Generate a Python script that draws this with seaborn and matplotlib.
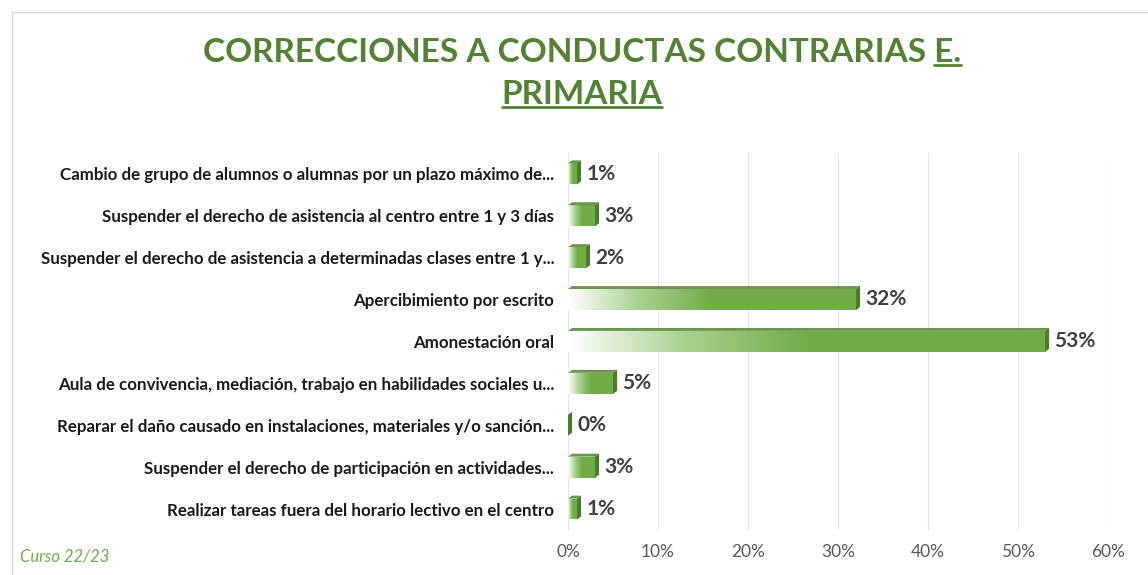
import numpy as np
import pandas as pd
import matplotlib
matplotlib.use("Agg")
import matplotlib.pyplot as plt
import seaborn as sns
from matplotlib.colors import LinearSegmentedColormap
from matplotlib.patches import Rectangle, Polygon
from matplotlib.lines import Line2D

# data
categories = [
    "Cambio de grupo de alumnos o alumnas por un plazo máximo de...",
    "Suspender el derecho de asistencia al centro entre 1 y 3 días",
    "Suspender el derecho de asistencia a determinadas clases entre 1 y...",
    "Apercibimiento por escrito",
    "Amonestación oral",
    "Aula de convivencia, mediación, trabajo en habilidades sociales u...",
    "Reparar el daño causado en instalaciones, materiales y/o sanción...",
    "Suspender el derecho de participación en actividades...",
    "Realizar tareas fuera del horario lectivo en el centro",
]
values = [1, 3, 2, 32, 53, 5, 0, 3, 1]
x_ticks = [0, 10, 20, 30, 40, 50, 60]
title_line1 = "CORRECCIONES A CONDUCTAS CONTRARIAS E."
title_underlined = "E."
title_line2 = "PRIMARIA"
footer = "Curso 22/23"

GREEN = "#70AD47"
DARK = "#548235"
TITLE_GREEN = "#538135"

sns.set_theme(style="white")
plt.rcParams["font.family"] = ["Lato", "DejaVu Sans"]

fig = plt.figure(figsize=(11.48, 5.75), dpi=100)
ax = fig.add_axes([0.4948, 0.0783, 0.4704, 0.656])

df = pd.DataFrame({"cat": categories, "val": values})
sns.barplot(data=df, y="cat", x="val", orient="h", color=GREEN,
            width=0.5, saturation=1, ax=ax, zorder=3)

# gradient fill + 3d faces
cmap = LinearSegmentedColormap.from_list("g", ["#FFFFFF", "#A9D08E", GREEN])
d = 0.45
up = 0.07
for p, v in zip(ax.patches, values):
    x0, y0 = p.get_x(), p.get_y()
    w, h = p.get_width(), p.get_height()
    x1 = x0 + w
    if w > 0:
        grad = np.clip(np.linspace(0, 1, 256) / 0.5, 0, 1)[None, :]
        im = ax.imshow(grad, cmap=cmap, aspect="auto",
                       extent=(x0, x1, y0 + h, y0), zorder=4)
        im.set_clip_path(p)
    p.set_edgecolor("none")
    top = Polygon([(x0, y0), (x1, y0), (x1 + d, y0 - up), (x0 + d, y0 - up)],
                  closed=True, fc=DARK, ec="none", zorder=5, alpha=0.85)
    side = Polygon([(x1, y0), (x1 + d, y0 - up), (x1 + d, y0 + h - up), (x1, y0 + h)],
                   closed=True, fc="#4E7A2F", ec="none", zorder=5)
    ax.add_patch(top)
    ax.add_patch(side)
    ax.text(x1 + d + 0.6, y0 + h / 2, f"{v}%", va="center", ha="left",
            fontsize=15, fontweight="bold", color="#404040", zorder=6)

ax.set_xlim(0, 60)
ax.set_ylim(len(categories) - 0.5, -0.5)
ax.set_xticks(x_ticks)
ax.set_xticklabels([f"{t}%" for t in x_ticks], color="#595959", fontsize=12.5)
ax.tick_params(axis="x", length=0, pad=10)
ax.tick_params(axis="y", length=0, pad=10)
for lab in ax.get_yticklabels():
    lab.set_fontweight("bold")
    lab.set_fontsize(12.2)
    lab.set_color("#1A1A1A")
ax.set_xlabel("")
ax.set_ylabel("")
ax.grid(axis="x", color="#E3E3E3", lw=0.8, zorder=0)
for s in ax.spines.values():
    s.set_visible(False)

# title with underlines
t1 = fig.text(0.507, 1 - 52 / 575, title_line1, ha="center", va="center",
              fontsize=24, fontweight="bold", color=TITLE_GREEN)
t2 = fig.text(0.507, 1 - 95 / 575, title_line2, ha="center", va="center",
              fontsize=24, fontweight="bold", color=TITLE_GREEN)
fig.canvas.draw()
r = fig.canvas.get_renderer()
tmp = fig.text(0, 0, title_underlined, fontsize=24, fontweight="bold")
wE = tmp.get_window_extent(r).width
tmp.remove()
b1 = t1.get_window_extent(r)
b2 = t2.get_window_extent(r)
W, H = fig.bbox.width, fig.bbox.height
for xa, xb, yb in [(b1.x1 - wE, b1.x1, b1.y0 + 2), (b2.x0, b2.x1, b2.y0 + 2)]:
    fig.add_artist(Line2D([xa / W, xb / W], [yb / H, yb / H],
                          transform=fig.transFigure, color=TITLE_GREEN, lw=2))

fig.text(20 / 1148, 1 - 557 / 575, footer, ha="left", va="center",
         fontsize=12, style="italic", color=GREEN)

fig.add_artist(Rectangle((12 / 1148, -1), 2, 1 + (1 - 12 / 575),
                         transform=fig.transFigure, fill=False,
                         ec="#D9D9D9", lw=1))

fig.savefig("out.png", dpi=100)
